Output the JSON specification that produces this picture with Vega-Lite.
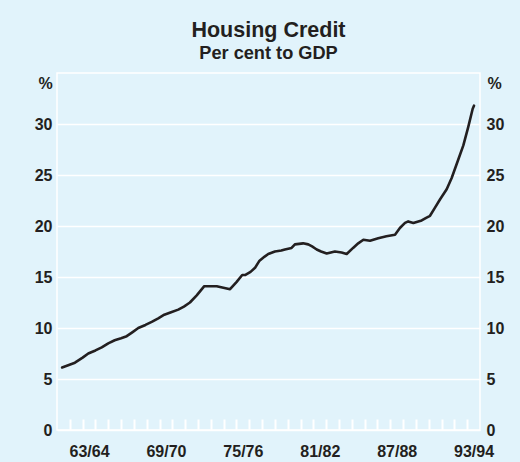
{
  "$schema": "https://vega.github.io/schema/vega-lite/v6.json",
  "autosize": "none",
  "width": 423,
  "height": 357,
  "padding": {"left": 57, "top": 73, "right": 40, "bottom": 32},
  "background": "#e1f3fb",
  "title": {
    "text": "Housing Credit",
    "subtitle": "Per cent to GDP",
    "anchor": "middle",
    "frame": "group",
    "font": "Liberation Sans",
    "fontSize": 21.5,
    "fontWeight": "bold",
    "color": "#231f20",
    "subtitleFont": "Liberation Sans",
    "subtitleFontSize": 18.2,
    "subtitleFontWeight": "bold",
    "subtitleColor": "#231f20",
    "subtitlePadding": 3,
    "offset": 11
  },
  "config": {
    "view": {"stroke": "white", "strokeWidth": 1.5, "fill": "#e1f3fb"},
    "axis": {
      "labelFont": "Liberation Sans",
      "labelFontSize": 16,
      "labelFontWeight": "bold",
      "labelColor": "#231f20",
      "titleFont": "Liberation Sans",
      "titleFontSize": 16,
      "titleFontWeight": "bold",
      "titleColor": "#231f20",
      "labelOverlap": false
    }
  },
  "data": {
    "values": [
      {"year": 1961.9, "credit": 6.13},
      {"year": 1962.9, "credit": 6.6},
      {"year": 1963.5, "credit": 7.1},
      {"year": 1963.94, "credit": 7.5},
      {"year": 1964.5, "credit": 7.8},
      {"year": 1964.99, "credit": 8.1},
      {"year": 1965.5, "credit": 8.5},
      {"year": 1966.0, "credit": 8.8},
      {"year": 1966.5, "credit": 9.0},
      {"year": 1966.94, "credit": 9.2},
      {"year": 1967.4, "credit": 9.6},
      {"year": 1967.84, "credit": 10.0},
      {"year": 1968.4, "credit": 10.3},
      {"year": 1968.89, "credit": 10.6},
      {"year": 1969.4, "credit": 10.95},
      {"year": 1969.87, "credit": 11.3},
      {"year": 1970.4, "credit": 11.55},
      {"year": 1970.96, "credit": 11.8},
      {"year": 1971.4, "credit": 12.1},
      {"year": 1971.87, "credit": 12.5},
      {"year": 1972.4, "credit": 13.2},
      {"year": 1972.99, "credit": 14.1},
      {"year": 1973.96, "credit": 14.1},
      {"year": 1975.0, "credit": 13.8},
      {"year": 1975.5, "credit": 14.5},
      {"year": 1975.95, "credit": 15.2},
      {"year": 1976.2, "credit": 15.2},
      {"year": 1976.6, "credit": 15.5},
      {"year": 1976.95, "credit": 15.9},
      {"year": 1977.3, "credit": 16.6},
      {"year": 1977.7, "credit": 17.0},
      {"year": 1977.98, "credit": 17.25},
      {"year": 1978.5, "credit": 17.5},
      {"year": 1979.0, "credit": 17.6},
      {"year": 1979.28, "credit": 17.7},
      {"year": 1979.8, "credit": 17.85},
      {"year": 1980.06, "credit": 18.2},
      {"year": 1980.7, "credit": 18.3},
      {"year": 1981.1, "credit": 18.2},
      {"year": 1981.4, "credit": 18.0},
      {"year": 1981.76, "credit": 17.7},
      {"year": 1982.1, "credit": 17.5},
      {"year": 1982.54, "credit": 17.3},
      {"year": 1983.18, "credit": 17.5},
      {"year": 1983.7, "credit": 17.4},
      {"year": 1984.1, "credit": 17.25},
      {"year": 1984.6, "credit": 17.85},
      {"year": 1985.0, "credit": 18.3},
      {"year": 1985.4, "credit": 18.65},
      {"year": 1985.92, "credit": 18.55},
      {"year": 1986.56, "credit": 18.8},
      {"year": 1987.2, "credit": 19.0},
      {"year": 1987.87, "credit": 19.15},
      {"year": 1988.25, "credit": 19.8},
      {"year": 1988.65, "credit": 20.3},
      {"year": 1988.9, "credit": 20.45},
      {"year": 1989.3, "credit": 20.3},
      {"year": 1989.95, "credit": 20.55},
      {"year": 1990.3, "credit": 20.8},
      {"year": 1990.6, "credit": 21.0},
      {"year": 1990.99, "credit": 21.8},
      {"year": 1991.4, "credit": 22.65},
      {"year": 1991.9, "credit": 23.6},
      {"year": 1992.29, "credit": 24.7},
      {"year": 1992.8, "credit": 26.5},
      {"year": 1993.2, "credit": 27.9},
      {"year": 1993.58, "credit": 29.7},
      {"year": 1993.93, "credit": 31.5},
      {"year": 1994.03, "credit": 31.8}
    ]
  },
  "encoding": {
    "x": {
      "field": "year",
      "type": "quantitative",
      "scale": {"domain": [1961.5, 1994.5], "nice": false, "zero": false},
      "axis": {
        "title": null,
        "domain": false,
        "grid": false,
        "values": [1962.5, 1963.5, 1964, 1964.5, 1965.5, 1966.5, 1967.5, 1968.5, 1969.5, 1970, 1970.5, 1971.5, 1972.5, 1973.5, 1974.5, 1975.5, 1976, 1976.5, 1977.5, 1978.5, 1979.5, 1980.5, 1981.5, 1982, 1982.5, 1983.5, 1984.5, 1985.5, 1986.5, 1987.5, 1988, 1988.5, 1989.5, 1990.5, 1991.5, 1992.5, 1993.5, 1994],
        "labelExpr": "datum.value % 1 === 0 ? (datum.value - 1901) + '/' + (datum.value - 1900) : ''",
        "labelOverlap": false,
        "labelFlush": false,
        "labelBound": false,
        "ticks": true,
        "tickWidth": 2,
        "tickSize": -11,
        "tickColor": {"condition": {"test": "datum.value % 1 === 0", "value": "transparent"}, "value": "white"},
        "labelPadding": 24,
        "labelBaseline": "top"
      }
    }
  },
  "layer": [
    {
      "mark": {"type": "line", "color": "#231f20", "strokeWidth": 2.6, "strokeJoin": "round", "strokeCap": "round"},
      "encoding": {
        "y": {
          "field": "credit",
          "type": "quantitative",
          "scale": {"domain": [0, 35], "nice": false},
          "axis": {
            "orient": "left",
            "values": [0, 5, 10, 15, 20, 25, 30],
            "title": "%",
            "titleAngle": 0,
            "titleX": -12,
            "titleY": 10,
            "titleAlign": "center",
            "titleBaseline": "middle",
            "domain": false,
            "ticks": false,
            "grid": true,
            "gridColor": "white",
            "gridWidth": 1.5,
            "labelPadding": 5,
            "labelBaseline": "middle"
          }
        }
      }
    },
    {
      "mark": {"type": "line", "opacity": 0},
      "encoding": {
        "y": {
          "field": "credit",
          "type": "quantitative",
          "axis": {
            "orient": "right",
            "values": [0, 5, 10, 15, 20, 25, 30],
            "title": "%",
            "titleAngle": 0,
            "titleX": 14,
            "titleY": 10,
            "titleAlign": "center",
            "titleBaseline": "middle",
            "domain": false,
            "ticks": false,
            "grid": false,
            "labelPadding": 6,
            "labelBaseline": "middle"
          }
        }
      }
    }
  ],
  "resolve": {"axis": {"y": "independent"}}
}
